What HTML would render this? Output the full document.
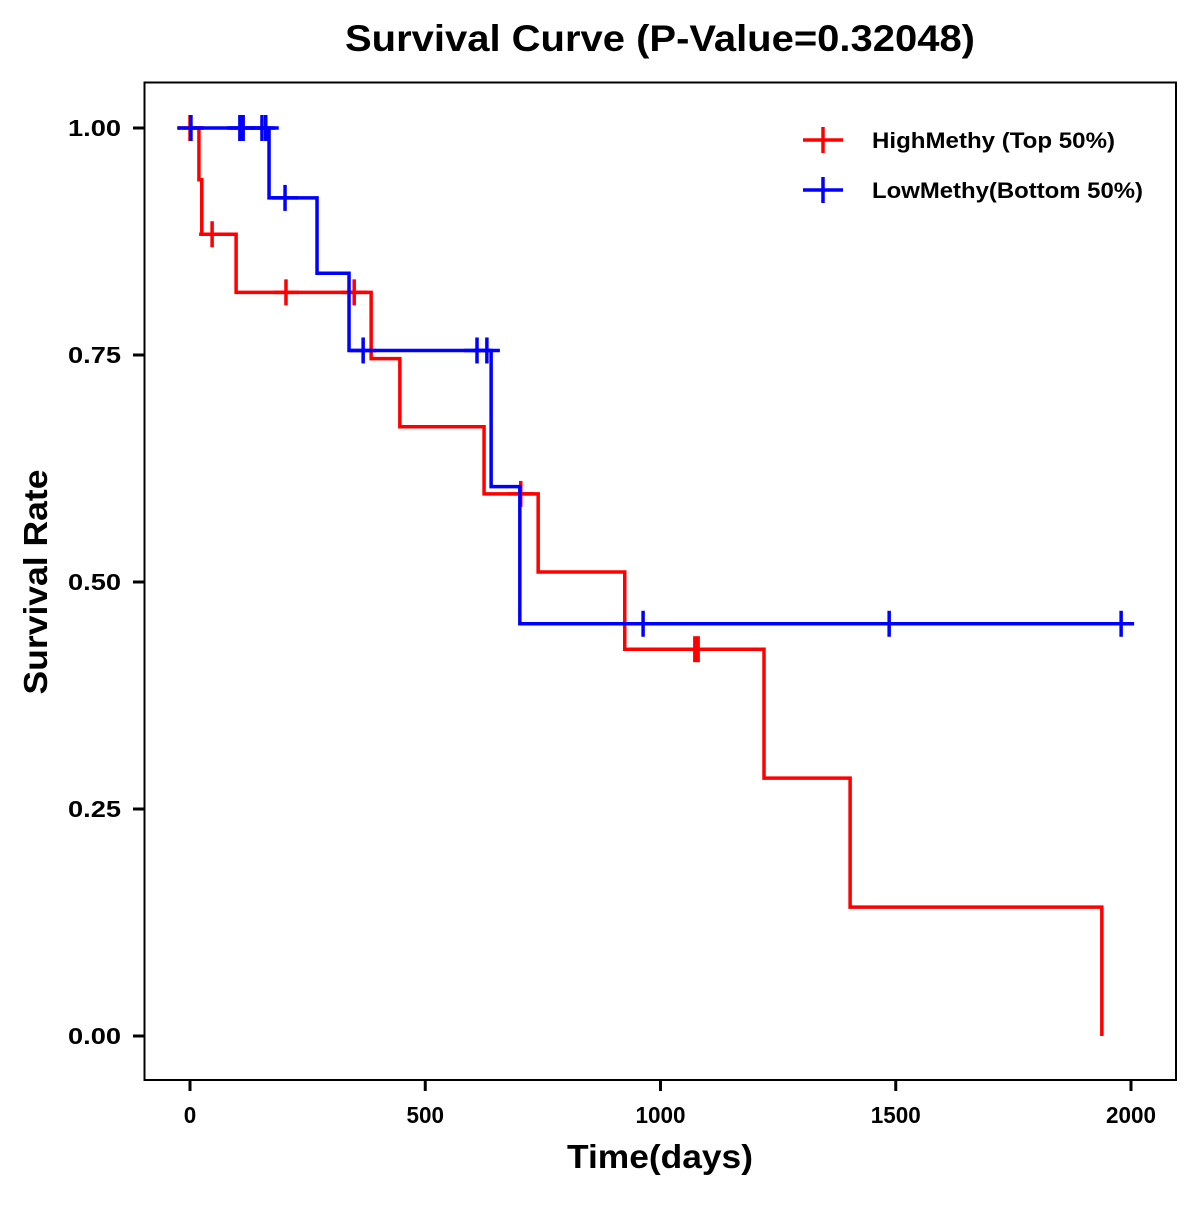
<!DOCTYPE html>
<html><head><meta charset="utf-8"><style>
html,body{margin:0;padding:0;background:#fff;}
svg text{font-family:"Liberation Sans",Arial,sans-serif;font-weight:bold;fill:#000;}
</style></head><body>
<svg id="chart" width="1200" height="1200" xmlns="http://www.w3.org/2000/svg">
<rect x="0" y="0" width="1200" height="1200" fill="#fff"/>
<text x="660" y="51" font-size="37" text-anchor="middle" textLength="630" lengthAdjust="spacingAndGlyphs">Survival Curve (P-Value=0.32048)</text>
<rect x="144.5" y="82.5" width="1031.5" height="997.5" fill="none" stroke="#000" stroke-width="2"/>
<g id="xticks"></g>
<g id="yticks"></g>
<g id="series"></g>
<text x="660" y="1168" font-size="33" text-anchor="middle" textLength="186" lengthAdjust="spacingAndGlyphs">Time(days)</text>
<text transform="translate(47,582) rotate(-90)" font-size="33" text-anchor="middle" textLength="225" lengthAdjust="spacingAndGlyphs">Survival Rate</text>
<g>
 <g>
  <line x1="803" y1="140" x2="843" y2="140" stroke="#f00" stroke-width="3.5"/>
  <line x1="823" y1="127" x2="823" y2="153" stroke="#f00" stroke-width="3.5"/>
  <text x="872" y="148" font-size="22" textLength="243" lengthAdjust="spacingAndGlyphs">HighMethy (Top 50%)</text>
 </g>
 <g>
  <line x1="803" y1="190" x2="843" y2="190" stroke="#00f" stroke-width="3.5"/>
  <line x1="823" y1="177" x2="823" y2="203" stroke="#00f" stroke-width="3.5"/>
  <text x="872" y="198" font-size="22" textLength="271" lengthAdjust="spacingAndGlyphs">LowMethy(Bottom 50%)</text>
 </g>
</g>
</svg>
<script>
const xTicks=[0,500,1000,1500,2000];
const yTicks=[0,0.25,0.5,0.75,1];
const yTickLabels=["0.00","0.25","0.50","0.75","1.00"];
const highTimes=[0,19,25,98,385,446,625,740,924,1220,1403,1938];
const highSurv=[1,0.943,0.883,0.819,0.746,0.671,0.597,0.511,0.426,0.284,0.142,0];
const highCensor=[0,47,204,349,703,1073,1080];
const lowTimes=[0,168,270,338,640,701];
const lowSurv=[1,0.923,0.840,0.755,0.605,0.454];
const lowCensor=[2,106,113,153,161,202,368,610,631,963,1486,1979];
const lowEnd=1979;

const NS="http://www.w3.org/2000/svg";
function X(d){return 190+d*(1131-190)/2000;}
function Y(v){return 1036-v*(1036-128);}
function mk(tag,attrs,parent){const e=document.createElementNS(NS,tag);for(const k in attrs)e.setAttribute(k,attrs[k]);parent.appendChild(e);return e;}
const xg=document.getElementById('xticks'),yg=document.getElementById('yticks'),sg=document.getElementById('series');
xTicks.forEach(t=>{
 const l=mk('line',{x1:X(t),x2:X(t),y1:1080,y2:1091,stroke:'#000','stroke-width':3},xg);
 
 
 const s=String(t);
 const tx=mk('text',{x:X(t),y:1123,'font-size':23,'text-anchor':'middle',textLength:s.length*12.5,lengthAdjust:'spacingAndGlyphs'},xg);
 tx.textContent=s;
 
 
});
yTicks.forEach((t,i)=>{
 const l=mk('line',{x1:133,x2:144,y1:Y(t),y2:Y(t),stroke:'#000','stroke-width':3},yg);
 
 
 const tx=mk('text',{x:121,y:Y(t)+8,'font-size':23,'text-anchor':'end',textLength:53,lengthAdjust:'spacingAndGlyphs'},yg);
 tx.textContent=yTickLabels[i];
 
 
});
function survAt(times,surv,t){let s=surv[0];for(let i=0;i<times.length;i++){if(times[i]<=t)s=surv[i];}return s;}
function drawSeries(times,surv,cens,end,color,name){
 const g=mk('g',{},sg);
 
 
 let d='M'+X(times[0])+','+Y(surv[0]);
 for(let i=1;i<times.length;i++){d+=' H'+X(times[i])+' V'+Y(surv[i]);}
 if(end>times[times.length-1])d+=' H'+X(end);
 const p=mk('path',{d:d,fill:'none',stroke:color,'stroke-width':3.5},g);
 
 
 cens.forEach(c=>{
  const y=Y(survAt(times,surv,c)),x=X(c);
  const cg=mk('g',{},g);
  
  
  mk('line',{x1:x-13,x2:x+13,y1:y,y2:y,stroke:color,'stroke-width':3.5},cg);
  mk('line',{x1:x,x2:x,y1:y-13,y2:y+13,stroke:color,'stroke-width':3.5},cg);
 });
}
drawSeries(highTimes,highSurv,highCensor,0,'#f00','high-methy-series');
drawSeries(lowTimes,lowSurv,lowCensor,lowEnd,'#00f','low-methy-series');
</script>
</body></html>
